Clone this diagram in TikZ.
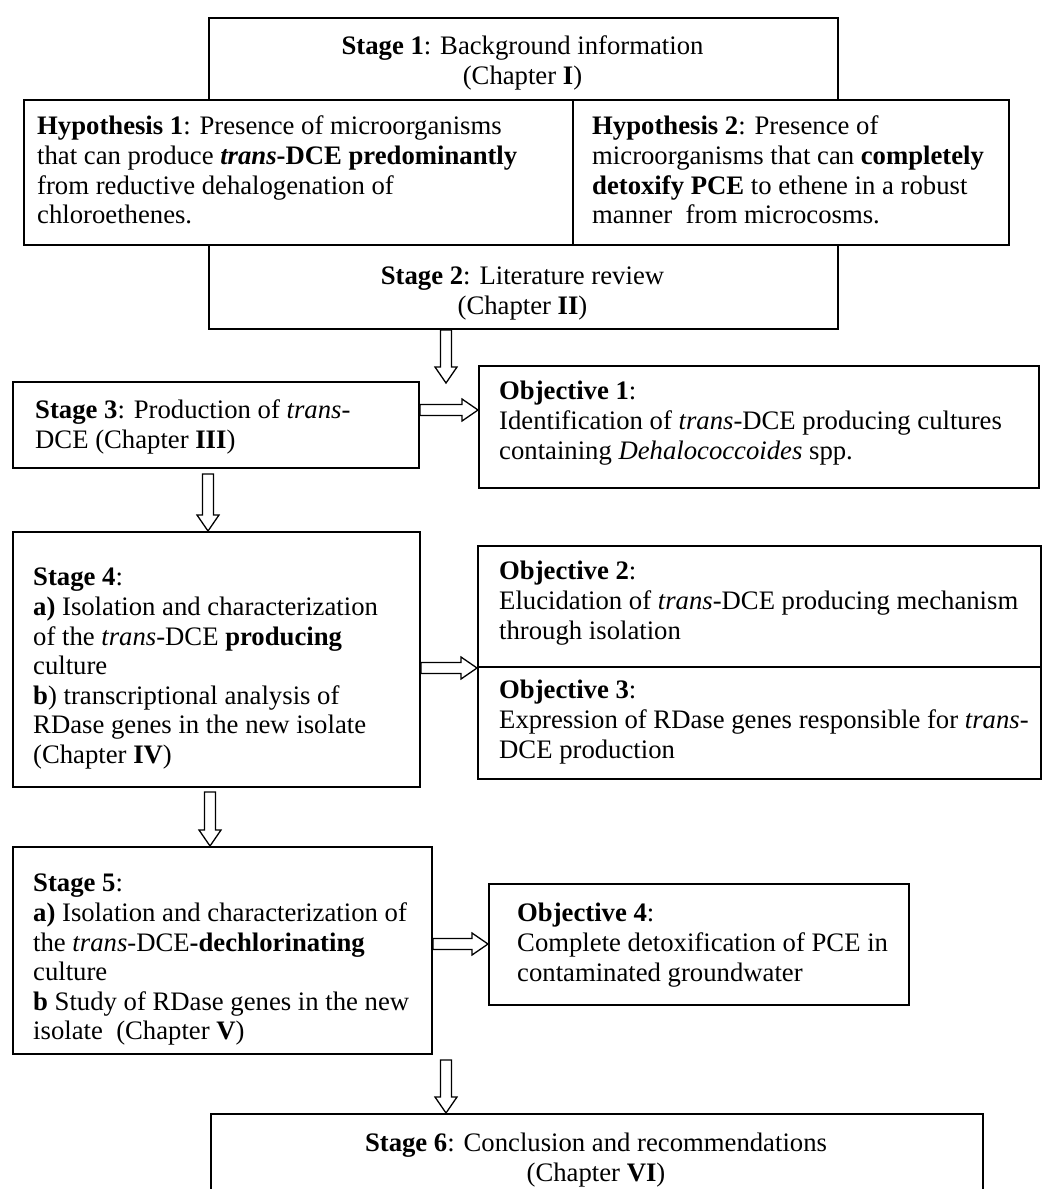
\documentclass[tikz,border=0pt]{standalone}
\usepackage{fontspec}
\setmainfont{Liberation Serif}
\usetikzlibrary{calc}

\tikzset{
  frame/.style={draw, line width=2pt, anchor=north west, inner sep=0pt},
  txt/.style={anchor=north west, inner sep=0pt, align=left, font=\fontsize{26.7}{29.6}\selectfont},
  ctxt/.style={txt, anchor=north, align=center},
  harrow/.style={draw, line width=1.3pt, fill=white, line join=miter},
}

% sageata goala intre doua puncte
\newcommand{\hollowarrow}[2]{%
  \draw[harrow] let \p1=#1, \p2=#2, \n1={atan2(\y2-\y1,\x2-\x1)}, \n2={veclen(\x2-\x1,\y2-\y1)} in
    [shift={(\p1)}, rotate=\n1] (0,5.5) -- (\n2-16,5.5) -- (\n2-16,11) -- (\n2,0)
    -- (\n2-16,-11) -- (\n2-16,-5.5) -- (0,-5.5) -- cycle;}

\begin{document}
\begin{tikzpicture}[x=1pt,y=-1pt]
  \useasboundingbox (0,0) rectangle (1043,1189);
  \clip (0,0) rectangle (1043,1189);

  % etapa 1 si ipotezele
  \node[frame, minimum width=629pt, minimum height=82pt] (st1) at (208,17) {};
  \node[ctxt] (st1t) at (522.5,34) {\strut\textbf{Stage 1}: Background information\\(Chapter \textbf{I})};
  \node[frame, minimum width=549pt, minimum height=145pt] (hy1) at (23,99) {};
  \node[txt] (hy1t) at (37,114) {\strut\textbf{Hypothesis 1}: Presence of microorganisms\\
    that can produce \textbf{\textit{trans}-DCE predominantly}\\
    from reductive dehalogenation of\\chloroethenes.};
  \node[frame, minimum width=436pt, minimum height=145pt] (hy2) at (572,99) {};
  \node[txt] (hy2t) at (592,114) {\strut\textbf{Hypothesis 2}: Presence of\\
    microorganisms that can \textbf{completely}\\
    \textbf{detoxify PCE} to ethene in a robust\\manner\ \ from microcosms.};
  \node[frame, minimum width=629pt, minimum height=84pt] (st2) at (208,244) {};
  \node[ctxt] (st2t) at (522.5,264) {\strut\textbf{Stage 2}: Literature review\\(Chapter \textbf{II})};

  % etapa 3
  \node[frame, minimum width=406pt, minimum height=86pt] (st3) at (12,381) {};
  \node[txt] (st3t) at (35,398) {\strut\textbf{Stage 3}: Production of \textit{trans}-\\DCE (Chapter \textbf{III})};
  \node[frame, minimum width=560pt, minimum height=122pt] (ob1) at (478,365) {};
  \node[txt] (ob1t) at (499,379) {\strut\textbf{Objective 1}:\\
    Identification of \textit{trans}-DCE producing cultures\\
    containing \textit{Dehalococcoides} spp.};

  % etapa 4
  \node[frame, minimum width=407pt, minimum height=255pt] (st4) at (12,531) {};
  \node[txt] (st4t) at (33,565) {\strut\textbf{Stage 4}:\\
    \textbf{a)} Isolation and characterization\\
    of the \textit{trans}-DCE \textbf{producing}\\
    culture\\
    \textbf{b}) transcriptional analysis of\\
    RDase genes in the new isolate\\
    (Chapter \textbf{IV})};
  \node[frame, minimum width=563pt, minimum height=121pt] (ob2) at (477,545) {};
  \node[txt] (ob2t) at (499,559) {\strut\textbf{Objective 2}:\\
    Elucidation of \textit{trans}-DCE producing mechanism\\through isolation};
  \node[frame, minimum width=563pt, minimum height=112pt] (ob3) at (477,666) {};
  \node[txt] (ob3t) at (499,678) {\strut\textbf{Objective 3}:\\
    Expression of RDase genes responsible for \textit{trans}-\\DCE production};

  % etapa 5
  \node[frame, minimum width=419pt, minimum height=207pt] (st5) at (12,846) {};
  \node[txt] (st5t) at (33,871) {\strut\textbf{Stage 5}:\\
    \textbf{a)} Isolation and characterization of\\
    the \textit{trans}-DCE\textbf{-dechlorinating}\\
    culture\\
    \textbf{b} Study of RDase genes in the new\\
    isolate\ \ (Chapter \textbf{V})};
  \node[frame, minimum width=420pt, minimum height=121pt] (ob4) at (488,883) {};
  \node[txt] (ob4t) at (517,901) {\strut\textbf{Objective 4}:\\
    Complete detoxification of PCE in\\contaminated groundwater};

  % etapa 6
  \node[frame, minimum width=772pt, minimum height=100pt] (st6) at (210,1113) {};
  \node[ctxt] (st6t) at (596,1131) {\strut\textbf{Stage 6}: Conclusion and recommendations\\(Chapter \textbf{VI})};

  % sageti
  \coordinate (c1) at (446,383);
  \coordinate (c2) at (208,0);
  \coordinate (c3) at (210,0);
  \coordinate (r1) at (0,410);
  \coordinate (r2) at (0,944);
  \hollowarrow{(st2.south -| c1)}{(c1)}
  \hollowarrow{(st3.east |- r1)}{(ob1.west |- r1)}
  \hollowarrow{([yshift=-5pt]st3.south -| c2)}{(st4.north -| c2)}
  \hollowarrow{(st4.east |- ob2.south)}{(ob2.south west)}
  \hollowarrow{([yshift=-4pt]st4.south -| c3)}{(st5.north -| c3)}
  \hollowarrow{(st5.east |- r2)}{(ob4.west |- r2)}
  \hollowarrow{([yshift=-5pt]st5.south -| c1)}{(st6.north -| c1)}
\end{tikzpicture}
\end{document}
